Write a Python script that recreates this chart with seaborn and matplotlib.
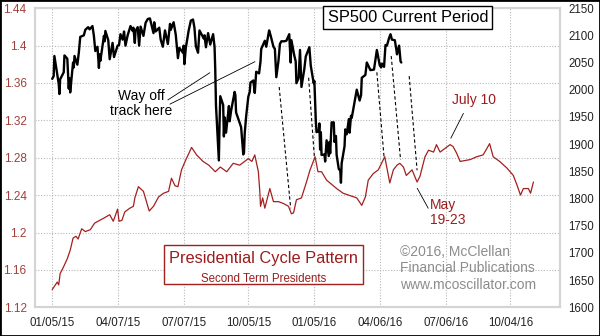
import matplotlib
matplotlib.use("Agg")
import matplotlib.pyplot as plt
import seaborn as sns
import pandas as pd
from matplotlib.patches import Rectangle

# ---------------- data ----------------
sp_dates = [
    "2015-01-05", "2015-01-07", "2015-01-08", "2015-01-12", "2015-01-14", "2015-01-15", "2015-01-16",
    "2015-01-21", "2015-01-22", "2015-01-26", "2015-01-28", "2015-01-29", "2015-01-30", "2015-02-03",
    "2015-02-04", "2015-02-05", "2015-02-09", "2015-02-11", "2015-02-13", "2015-02-18", "2015-02-20",
    "2015-02-24", "2015-02-26", "2015-03-02", "2015-03-04", "2015-03-06", "2015-03-09", "2015-03-11",
    "2015-03-12", "2015-03-13", "2015-03-16", "2015-03-18", "2015-03-19", "2015-03-20", "2015-03-24",
    "2015-03-26", "2015-03-30", "2015-04-01", "2015-04-06", "2015-04-08", "2015-04-10", "2015-04-13",
    "2015-04-15", "2015-04-17", "2015-04-20", "2015-04-24", "2015-04-27", "2015-04-28", "2015-04-30",
    "2015-05-01", "2015-05-04", "2015-05-06", "2015-05-08", "2015-05-12", "2015-05-15", "2015-05-18",
    "2015-05-21", "2015-05-26", "2015-05-27", "2015-05-29", "2015-06-03", "2015-06-05", "2015-06-08",
    "2015-06-11", "2015-06-15", "2015-06-18", "2015-06-19", "2015-06-23", "2015-06-26", "2015-06-29",
    "2015-07-01", "2015-07-06", "2015-07-07", "2015-07-08", "2015-07-10", "2015-07-14", "2015-07-17",
    "2015-07-20", "2015-07-22", "2015-07-24", "2015-07-27", "2015-07-29", "2015-07-31", "2015-08-04",
    "2015-08-05", "2015-08-07", "2015-08-10", "2015-08-13", "2015-08-17", "2015-08-19", "2015-08-20",
    "2015-08-21", "2015-08-24", "2015-08-25", "2015-08-26", "2015-08-27", "2015-08-31", "2015-09-01",
    "2015-09-02", "2015-09-04", "2015-09-08", "2015-09-09", "2015-09-11", "2015-09-16", "2015-09-17",
    "2015-09-18", "2015-09-22", "2015-09-23", "2015-09-25", "2015-09-28", "2015-09-29", "2015-09-30",
    "2015-10-02", "2015-10-05", "2015-10-07", "2015-10-08", "2015-10-12", "2015-10-14", "2015-10-16",
    "2015-10-20", "2015-10-22", "2015-10-23", "2015-10-28", "2015-10-30", "2015-11-03", "2015-11-05",
    "2015-11-09", "2015-11-11", "2015-11-13", "2015-11-16", "2015-11-18", "2015-11-20", "2015-11-24",
    "2015-11-27", "2015-12-01", "2015-12-03", "2015-12-04", "2015-12-08", "2015-12-10", "2015-12-11",
    "2015-12-14", "2015-12-16", "2015-12-18", "2015-12-22", "2015-12-24", "2015-12-29", "2015-12-31",
    "2016-01-04", "2016-01-05", "2016-01-07", "2016-01-08", "2016-01-11", "2016-01-12", "2016-01-13",
    "2016-01-14", "2016-01-15", "2016-01-19", "2016-01-20", "2016-01-22", "2016-01-25", "2016-01-26",
    "2016-01-27", "2016-01-29", "2016-02-01", "2016-02-02", "2016-02-04", "2016-02-05", "2016-02-08",
    "2016-02-10", "2016-02-11", "2016-02-12", "2016-02-16", "2016-02-17", "2016-02-19", "2016-02-22",
    "2016-02-23", "2016-02-25", "2016-02-26", "2016-03-01", "2016-03-04", "2016-03-08", "2016-03-10",
    "2016-03-11", "2016-03-16", "2016-03-18", "2016-03-23", "2016-03-28", "2016-04-01", "2016-04-05",
    "2016-04-07", "2016-04-08", "2016-04-11", "2016-04-13", "2016-04-15", "2016-04-18", "2016-04-20",
    "2016-04-22", "2016-04-26", "2016-04-28", "2016-04-29", "2016-05-02", "2016-05-04", "2016-05-05"]
sp_values = [
    2020, 2025, 2062, 2028, 2011, 1992, 2019,
    2032, 2063, 2057, 2002, 2021, 1995, 2050,
    2041, 2062, 2046, 2068, 2097, 2100, 2110,
    2115, 2111, 2117, 2099, 2071, 2079, 2040,
    2065, 2053, 2081, 2099, 2089, 2108, 2091,
    2056, 2086, 2060, 2081, 2082, 2102, 2092,
    2107, 2081, 2100, 2117, 2108, 2114, 2086,
    2108, 2115, 2081, 2116, 2099, 2123, 2130,
    2131, 2104, 2124, 2107, 2114, 2092, 2079,
    2109, 2084, 2121, 2110, 2124, 2101, 2058,
    2077, 2068, 2081, 2047, 2077, 2109, 2127,
    2129, 2114, 2080, 2068, 2109, 2104, 2094,
    2100, 2078, 2104, 2083, 2102, 2079, 2036,
    1971, 1893, 1870, 1940, 1988, 1972, 1914,
    1949, 1921, 1970, 1942, 1961, 1996, 1990,
    1958, 1943, 1939, 1931, 1881, 1884, 1920,
    1951, 1987, 1996, 2013, 2017, 1994, 2033,
    2030, 2052, 2075, 2090, 2079, 2109, 2100,
    2079, 2075, 2023, 2053, 2084, 2089, 2089,
    2090, 2102, 2050, 2091, 2063, 2052, 2012,
    2021, 2073, 2005, 2038, 2061, 2078, 2044,
    2012, 2016, 1943, 1922, 1924, 1938, 1890,
    1922, 1880, 1881, 1868, 1907, 1878, 1904,
    1883, 1940, 1940, 1904, 1915, 1880, 1854,
    1852, 1829, 1865, 1896, 1927, 1918, 1946,
    1921, 1952, 1948, 1978, 2000, 1980, 1990,
    2022, 2027, 2050, 2036, 2037, 2073, 2045,
    2041, 2048, 2042, 2082, 2081, 2095, 2102,
    2092, 2091, 2075, 2065, 2081, 2052, 2050]

pc_dates = ["2015-01-05", "2015-01-12", "2015-01-14", "2015-01-16", "2015-01-20", "2015-01-26",
            "2015-01-30", "2015-02-03", "2015-02-07", "2015-02-10", "2015-02-15", "2015-02-20",
            "2015-02-27", "2015-03-05", "2015-03-12", "2015-03-17", "2015-03-26", "2015-03-31",
            "2015-04-06", "2015-04-08", "2015-04-12", "2015-04-16", "2015-04-23", "2015-04-28",
            "2015-04-30", "2015-05-05", "2015-05-12", "2015-05-20", "2015-05-26", "2015-06-02",
            "2015-06-09", "2015-06-16", "2015-06-20", "2015-06-25", "2015-06-29", "2015-07-04",
            "2015-07-09", "2015-07-18", "2015-07-25", "2015-08-03", "2015-08-11", "2015-08-20",
            "2015-08-27", "2015-09-05", "2015-09-14", "2015-09-23", "2015-10-05", "2015-10-10",
            "2015-10-14", "2015-10-19", "2015-10-21", "2015-10-22", "2015-10-25", "2015-10-28",
            "2015-11-04", "2015-11-09", "2015-11-16", "2015-11-23", "2015-11-30", "2015-12-04",
            "2015-12-07", "2015-12-11", "2015-12-18", "2015-12-25", "2015-12-30", "2016-01-06",
            "2016-01-10", "2016-01-15", "2016-01-22", "2016-02-05", "2016-02-14", "2016-03-04",
            "2016-03-11", "2016-03-16", "2016-03-20", "2016-03-27", "2016-04-03", "2016-04-12",
            "2016-04-19", "2016-04-24", "2016-04-29", "2016-05-03", "2016-05-08", "2016-05-12",
            "2016-05-20", "2016-05-27", "2016-05-31", "2016-06-07", "2016-06-12", "2016-06-19",
            "2016-06-23", "2016-06-28", "2016-07-05", "2016-07-12", "2016-07-16", "2016-07-21",
            "2016-07-26", "2016-08-09", "2016-08-18", "2016-08-27", "2016-09-05", "2016-09-10",
            "2016-09-19", "2016-09-29", "2016-10-08", "2016-10-13", "2016-10-18", "2016-10-22",
            "2016-10-29", "2016-11-01", "2016-11-05"]
pc_values = [1.139, 1.147, 1.144, 1.156, 1.162, 1.172,
             1.181, 1.194, 1.196, 1.193, 1.204, 1.201,
             1.203, 1.210, 1.213, 1.215, 1.219, 1.212,
             1.225, 1.212, 1.213, 1.222, 1.226, 1.228,
             1.237, 1.249, 1.244, 1.223, 1.228, 1.238,
             1.242, 1.244, 1.258, 1.250, 1.249, 1.267,
             1.276, 1.291, 1.283, 1.276, 1.272, 1.265,
             1.270, 1.265, 1.274, 1.272, 1.279, 1.276,
             1.283, 1.265, 1.244, 1.228, 1.237, 1.226,
             1.247, 1.233, 1.233, 1.231, 1.228, 1.220,
             1.221, 1.235, 1.237, 1.254, 1.267, 1.281,
             1.265, 1.265, 1.256, 1.247, 1.242, 1.237,
             1.229, 1.238, 1.256, 1.263, 1.267, 1.281,
             1.253, 1.267, 1.272, 1.274, 1.270, 1.261,
             1.267, 1.254, 1.260, 1.281, 1.288, 1.286,
             1.294, 1.286, 1.290, 1.294, 1.292, 1.285,
             1.276, 1.278, 1.281, 1.283, 1.295, 1.281,
             1.276, 1.269, 1.261, 1.251, 1.240, 1.247,
             1.247, 1.242, 1.254]

x_tick_dates = ["2015-01-05", "2015-04-07", "2015-07-07", "2015-10-05",
                "2016-01-05", "2016-04-06", "2016-07-06", "2016-10-04"]
x_tick_labels = ["01/05/15", "04/07/15", "07/07/15", "10/05/15",
                 "01/05/16", "04/06/16", "07/06/16", "10/04/16"]
left_ticks = [1.12, 1.16, 1.20, 1.24, 1.28, 1.32, 1.36, 1.40, 1.44]
left_labels = ["1.12", "1.16", "1.2", "1.24", "1.28", "1.32", "1.36", "1.4", "1.44"]
right_ticks = [1600, 1650, 1700, 1750, 1800, 1850, 1900, 1950, 2000, 2050, 2100, 2150]

# dashed connectors (date, SP500-scale value) pairs
connectors = [
    (("2015-11-17", 2005), ("2015-12-03", 1782)),
    (("2015-12-28", 2022), ("2016-01-05", 1876)),
    (("2016-04-01", 2032), ("2016-04-11", 1876)),
    (("2016-04-21", 2062), ("2016-05-04", 1871)),
    (("2016-05-16", 2025), ("2016-05-27", 1852)),
]

# ---------------- style ----------------
sns.set_theme(style="white")
plt.rcParams["font.family"] = ["Liberation Sans", "DejaVu Sans"]

RED = "#a3201f"
TXT_RED = "#9b1c1c"

fig = plt.figure(figsize=(6, 3.36), dpi=100)
ax = fig.add_axes([35 / 600, (336 - 307.3) / 336, 525 / 600, 299.2 / 336])
ax2 = ax.twinx()

pc_df = pd.DataFrame({"date": pd.to_datetime(pc_dates), "value": pc_values})
sp_df = pd.DataFrame({"date": pd.to_datetime(sp_dates), "value": sp_values})

sns.lineplot(data=pc_df, x="date", y="value", ax=ax, color=RED, lw=0.9)
sns.lineplot(data=sp_df, x="date", y="value", ax=ax2, color="black", lw=1.7)

xmin, xmax = pd.Timestamp("2014-12-12"), pd.Timestamp("2016-12-12")
ax.set_xlim(xmin, xmax)
ax.set_ylim(1.12, 1.44)
ax2.set_ylim(1600, 2150)

ax.set_xticks(pd.to_datetime(x_tick_dates))
ax.set_xticklabels(x_tick_labels, fontsize=8.3, color="#222222")
ax.set_yticks(left_ticks)
ax.set_yticklabels(left_labels, fontsize=8.5, color="#a0403a")
ax2.set_yticks(right_ticks)
ax2.set_yticklabels([str(t) for t in right_ticks], fontsize=8.3, color="#222222")

ax.tick_params(axis="both", length=0)
ax.tick_params(axis="y", pad=6)
ax.tick_params(axis="x", pad=7)
ax2.tick_params(axis="y", length=0, pad=6)

ax.grid(True, ls=(0, (1, 1.5)), color="#b8b8b8", lw=0.8)
ax2.grid(False)
for a in (ax, ax2):
    a.set_xlabel("")
    a.set_ylabel("")
    for s in a.spines.values():
        s.set_color("#d4d4d4")
        s.set_linewidth(1.5)

# dashed connectors
for (d0, v0), (d1, v1) in connectors:
    ax2.plot(pd.to_datetime([d0, d1]), [v0, v1], color="black", lw=0.8,
             ls=(0, (3, 2.2)), zorder=1)

# "Way off track here"
ax2.text(0.202, 0.680, "Way off\ntrack here", transform=ax.transAxes, ha="center",
         va="center", fontsize=10, color="black", linespacing=1.1)
ax2.plot([0.253, 0.333], [0.693, 0.784], transform=ax.transAxes, color="black", lw=0.6)
ax2.plot([0.257, 0.419], [0.679, 0.821], transform=ax.transAxes, color="black", lw=0.6)

# "July 10"
ax2.text(0.837, 0.693, "July 10", transform=ax.transAxes, ha="center", va="center",
         fontsize=10, color=TXT_RED)
ax2.plot([0.816, 0.792], [0.648, 0.565], transform=ax.transAxes, color="black", lw=0.6)

# "May 19-23"
ax2.text(0.752, 0.318, "May\n19-23", transform=ax.transAxes, ha="left", va="center",
         fontsize=10, color=TXT_RED, linespacing=1.1)
ax2.plot([0.728, 0.749], [0.398, 0.331], transform=ax.transAxes, color="black", lw=0.6)

# SP500 box
ax2.text(0.710, 0.969, "SP500 Current Period", transform=ax.transAxes, ha="center",
         va="center", fontsize=11.8, color="black", zorder=5,
         bbox=dict(boxstyle="square,pad=0.25", fc="white", ec="black", lw=1))

# Presidential cycle box
ax2.add_patch(Rectangle((0.2457, 0.0779), 0.379, 0.130, transform=ax.transAxes,
                        fc="white", ec=RED, lw=1, zorder=4))
ax2.text(0.435, 0.163, "Presidential Cycle Pattern", transform=ax.transAxes,
         ha="center", va="center", fontsize=11.8, color=TXT_RED, zorder=5)
ax2.text(0.435, 0.0946, "Second Term Presidents", transform=ax.transAxes,
         ha="center", va="center", fontsize=8.3, color=TXT_RED, zorder=5)

# copyright
ax2.text(0.695, 0.131, "\u00a92016, McClellan\nFinancial Publications\nwww.mcoscillator.com",
         transform=ax.transAxes, ha="left", va="center", fontsize=10,
         color="#8c8c8c", linespacing=1.22)

# figure border
fig.add_artist(Rectangle((0, 0), 1, 1, transform=fig.transFigure, fill=False,
                         ec="black", lw=2))

fig.savefig("out.png", dpi=100)
